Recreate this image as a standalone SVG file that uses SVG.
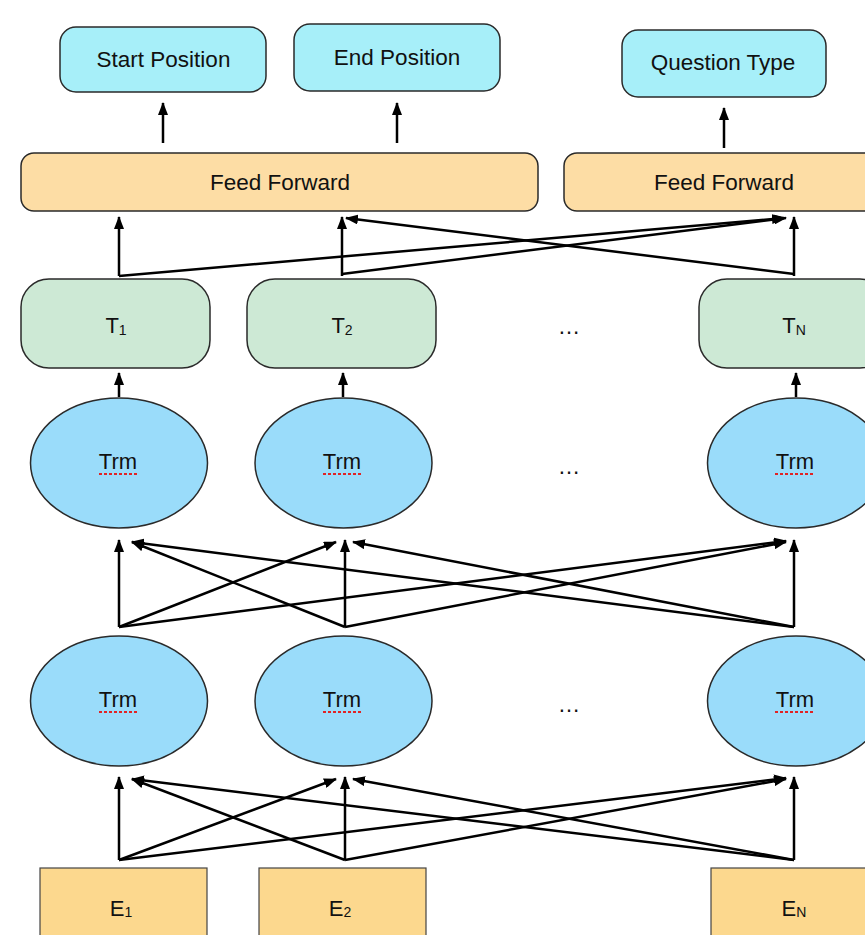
<svg xmlns="http://www.w3.org/2000/svg" width="865" height="935" viewBox="0 0 865 935">
<style>
text{font-family:"Liberation Sans",Arial,sans-serif;fill:#111;text-anchor:middle}
.lbl{font-size:22.5px}
.sm{font-size:22px}
.out{fill:#a7eff9;stroke:#2a2a2a;stroke-width:1.5}
.ff{fill:#fddda5;stroke:#2a2a2a;stroke-width:1.5}
.tb{fill:#cde9d5;stroke:#2a2a2a;stroke-width:1.5}
.trm{fill:#9adcfa;stroke:#2a2a2a;stroke-width:1.5}
.eb{fill:#fcd88e;stroke:#444;stroke-width:1.2}
.sub{font-size:14px}
.ul{stroke:#e02424;stroke-width:2;stroke-dasharray:3 2}
.c line{stroke:#000;stroke-width:2.5;marker-end:url(#ah)}
</style>
<defs>
<marker id="ah" markerUnits="userSpaceOnUse" markerWidth="13" markerHeight="10" refX="12" refY="5" orient="auto">
<path d="M0,0 L13,5 L0,10 z" fill="#000"/>
</marker>
</defs>
<rect width="865" height="935" fill="#fff"/>

<g id="start-position"><rect class="out" x="60" y="27" width="206" height="65" rx="16"/><text class="lbl" x="163.5" y="67">Start Position</text></g>
<g id="end-position"><rect class="out" x="294" y="24" width="206" height="67" rx="16"/><text class="lbl" x="397" y="65">End Position</text></g>
<g id="question-type"><rect class="out" x="622" y="30" width="204" height="67" rx="16"/><text class="lbl" x="723" y="70">Question Type</text></g>

<g id="feed-forward-1"><rect class="ff" x="21" y="153" width="517" height="58" rx="13"/><text class="lbl" x="280" y="190">Feed Forward</text></g>
<g id="feed-forward-2"><rect class="ff" x="564" y="153" width="320" height="58" rx="13"/><text class="lbl" x="724" y="190">Feed Forward</text></g>

<g id="t1"><rect class="tb" x="21" y="279" width="189" height="89" rx="28"/><text class="sm" x="116" y="333">T<tspan class="sub" dy="2">1</tspan></text></g>
<g id="t2"><rect class="tb" x="247" y="279" width="189" height="89" rx="28"/><text class="sm" x="342" y="333">T<tspan class="sub" dy="2">2</tspan></text></g>
<g id="t-dots"><text class="lbl" x="569" y="334">…</text></g>
<g id="tn"><rect class="tb" x="699" y="279" width="189" height="89" rx="28"/><text class="sm" x="794" y="333">T<tspan class="sub" font-size="15" dy="2">N</tspan></text></g>

<g id="trm-1-1"><ellipse class="trm" cx="119" cy="463" rx="88.5" ry="65"/><text class="sm" x="118" y="469">Trm</text><line class="ul" x1="99" y1="474" x2="139" y2="474"/></g>
<g id="trm-1-2"><ellipse class="trm" cx="343.5" cy="463" rx="88.5" ry="65"/><text class="sm" x="342" y="469">Trm</text><line class="ul" x1="323" y1="474" x2="363" y2="474"/></g>
<g id="trm-1-dots"><text class="lbl" x="569" y="474">…</text></g>
<g id="trm-1-n"><ellipse class="trm" cx="796" cy="463" rx="88.5" ry="65"/><text class="sm" x="795" y="469">Trm</text><line class="ul" x1="775" y1="474" x2="815" y2="474"/></g>

<g id="trm-2-1"><ellipse class="trm" cx="119" cy="701" rx="88.5" ry="65"/><text class="sm" x="118" y="707">Trm</text><line class="ul" x1="99" y1="712" x2="139" y2="712"/></g>
<g id="trm-2-2"><ellipse class="trm" cx="343.5" cy="701" rx="88.5" ry="65"/><text class="sm" x="342" y="707">Trm</text><line class="ul" x1="323" y1="712" x2="363" y2="712"/></g>
<g id="trm-2-dots"><text class="lbl" x="569" y="712">…</text></g>
<g id="trm-2-n"><ellipse class="trm" cx="796" cy="701" rx="88.5" ry="65"/><text class="sm" x="795" y="707">Trm</text><line class="ul" x1="775" y1="712" x2="815" y2="712"/></g>

<g id="e1"><rect class="eb" x="40" y="868" width="167" height="80"/><text class="sm" x="121" y="916">E<tspan class="sub" dy="1">1</tspan></text></g>
<g id="e2"><rect class="eb" x="259" y="868" width="167" height="80"/><text class="sm" x="340" y="916">E<tspan class="sub" dy="1">2</tspan></text></g>
<g id="en"><rect class="eb" x="711" y="868" width="167" height="80"/><text class="sm" x="794" y="916">E<tspan class="sub" font-size="15" dy="1">N</tspan></text></g>

<g id="connectors" class="c">
<line x1="163" y1="143" x2="163" y2="103"/>
<line x1="397" y1="143" x2="397" y2="103"/>
<line x1="724" y1="148" x2="724" y2="108"/>

<line x1="119" y1="276" x2="119" y2="217"/>
<line x1="119" y1="276" x2="784" y2="218"/>
<line x1="342" y1="276" x2="342" y2="217"/>
<line x1="342" y1="274" x2="786" y2="218"/>
<line x1="794" y1="274" x2="346" y2="218"/>
<line x1="794" y1="276" x2="794" y2="217"/>

<line x1="119" y1="397" x2="119" y2="373"/>
<line x1="343" y1="397" x2="343" y2="373"/>
<line x1="796" y1="397" x2="796" y2="373"/>

<line x1="119" y1="627" x2="119" y2="540"/>
<line x1="119" y1="627" x2="336" y2="542"/>
<line x1="119" y1="627" x2="786" y2="541"/>
<line x1="345" y1="627" x2="132" y2="542"/>
<line x1="345" y1="627" x2="345" y2="540"/>
<line x1="345" y1="627" x2="786" y2="542"/>
<line x1="794" y1="627" x2="132" y2="542"/>
<line x1="794" y1="627" x2="353" y2="542"/>
<line x1="794" y1="627" x2="794" y2="540"/>

<line x1="119" y1="860" x2="119" y2="777"/>
<line x1="119" y1="860" x2="336" y2="779"/>
<line x1="119" y1="860" x2="786" y2="778"/>
<line x1="345" y1="860" x2="132" y2="779"/>
<line x1="345" y1="860" x2="345" y2="777"/>
<line x1="345" y1="860" x2="786" y2="779"/>
<line x1="794" y1="860" x2="132" y2="779"/>
<line x1="794" y1="860" x2="353" y2="779"/>
<line x1="794" y1="860" x2="794" y2="777"/>
</g>
</svg>
